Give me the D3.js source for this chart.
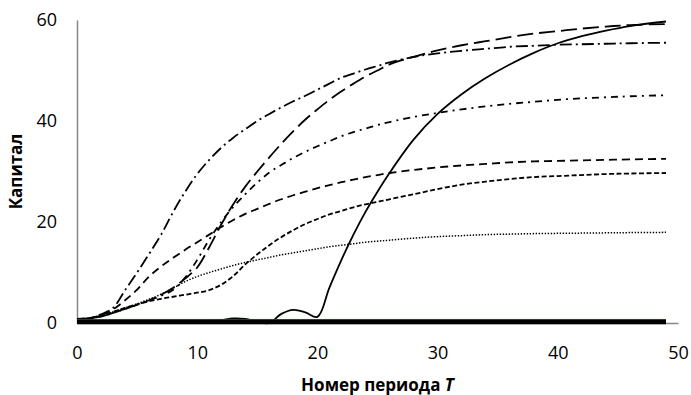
<!DOCTYPE html>
<html>
<head>
<meta charset="utf-8">
<script src="https://cdn.jsdelivr.net/npm/d3@7"></script>
<style>
  html, body { margin: 0; padding: 0; background: #fff; }
  svg { display: block; }
</style>
</head>
<body>
<svg id="chart" width="691" height="395"></svg>
<script>
// periods (T) at which each series was read
const periods = [0,1,2,3,4,5,6,7,8,9,10,11,12,13,14,15,16,17,18,19,20,21,22,23,24,25,26,28,30,32,34,36,38,40,42,44,46,49];

// long dash-dot
const seriesA = [0.8,0.9,1.7,3,6.5,10,13.7,17.5,22,26,29.5,32.3,34.7,36.7,38.4,40,41.4,42.7,43.9,45,46.2,47.4,48.6,49.4,50.2,50.9,51.6,52.7,53.4,53.9,54.3,54.7,54.9,55.1,55.2,55.3,55.4,55.5];
// long dash
const seriesB = [0.8,0.9,1.3,2,2.8,3.6,4.5,5.6,7,8.8,11,15,19.5,23.5,27,30,32.8,35.5,38,40.3,42.3,44.2,45.9,47.4,48.8,50,51.2,52.7,54,55,55.8,56.6,57.3,57.8,58.3,58.7,59,59.2];
// dash-dot
const seriesC = [0.8,0.9,1.3,2,2.8,3.6,4.5,5.4,6.6,9,12.5,16.5,20,23,25.5,27.8,29.8,31.3,32.7,33.9,35,36,37,37.8,38.5,39.2,39.8,40.8,41.6,42.3,42.9,43.4,43.8,44.2,44.5,44.7,44.9,45.1];
// dash
const seriesD = [0.8,1,1.6,2.7,4.5,6.6,9.2,11.2,12.9,14.5,16,17.5,19,20.4,21.6,22.6,23.6,24.5,25.3,26,26.7,27.3,27.9,28.4,28.9,29.3,29.7,30.3,30.8,31.2,31.5,31.8,32,32.1,32.2,32.3,32.4,32.5];
// short dash
const seriesE = [0.8,0.9,1.4,2.2,3,3.7,4.3,4.8,5.2,5.6,6,6.5,7.6,9.3,11.6,13.6,15.4,17,18.4,19.6,20.6,21.5,22.2,22.9,23.5,24,24.5,25.5,26.5,27.4,28,28.5,28.9,29.1,29.3,29.5,29.6,29.7];
// dotted
const seriesF = [0.8,0.9,1.4,2.2,3,3.8,4.7,5.7,6.9,8.2,9.2,10,10.7,11.4,12,12.5,13,13.5,13.9,14.3,14.7,15.1,15.4,15.7,16,16.2,16.4,16.8,17.1,17.3,17.5,17.6,17.7,17.75,17.8,17.85,17.9,17.95];
// solid
const seriesG = [0.8,0.5,0.3,0.3,0.3,0.3,0.3,0.3,0.3,0.3,0.3,0.4,0.6,0.9,0.8,0.3,0,1.8,2.6,2.1,1.2,7,12.5,17.5,22,26,29.7,36.3,41.4,45.3,48.5,51.2,53.5,55.4,56.8,57.9,58.8,59.7];

// series that stay at zero (thick band on the axis)
const zeroPeriods = [0, 49];
const zeroSeries = [[0.45, 0.45], [0.2, 0.2], [0, 0]];

const xTicks = [0, 10, 20, 30, 40, 50];
const yTicks = [0, 20, 40, 60];

const styles = [
  { data: seriesA, dash: "12,4,2,4", w: 1.8 },
  { data: seriesB, dash: "16,6", w: 1.8 },
  { data: seriesC, dash: "7,5,2,5", w: 1.8 },
  { data: seriesD, dash: "8,5", w: 1.8 },
  { data: seriesE, dash: "5,2.5", w: 1.8 },
  { data: seriesF, dash: "1.4,1.6", w: 1.5 },
  { data: seriesG, dash: null, w: 1.8 }
];

const svg = d3.select("#chart");
const x = d3.scaleLinear().domain([0, 50]).range([77, 678]);
const y = d3.scaleLinear().domain([0, 60]).range([323, 20]);
const font = "'Open Sans', sans-serif";

// axes
const yAxis = svg.append("g")
  .attr("transform", `translate(${x(0)},0)`)
  .call(d3.axisLeft(y).tickValues(yTicks).tickSize(0).tickPadding(20));
const xAxis = svg.append("g")
  .attr("transform", `translate(0,${y(0)})`)
  .call(d3.axisBottom(x).tickValues(xTicks).tickSize(0).tickPadding(23));

[yAxis, xAxis].forEach(a => {
  a.select(".domain").attr("stroke", "#868686").attr("stroke-width", 1.5);
  a.selectAll("text")
    .attr("fill", "#000")
    .style("font-family", font)
    .style("font-size", "18px");
});

const line = d3.line()
  .x((d, i) => x(periods[i]))
  .y(d => y(d))
  .curve(d3.curveCatmullRom.alpha(0.5));

const lines = svg.append("g").attr("fill", "none").attr("stroke", "#000");
styles.forEach(s => {
  lines.append("path")
    .attr("d", line(s.data))
    .attr("stroke-width", s.w)
    .attr("stroke-dasharray", s.dash)
    .attr("stroke-linejoin", "round");
});

const zeroLine = d3.line()
  .x((d, i) => x(zeroPeriods[i]))
  .y(d => y(d));
lines.append("path")
  .attr("d", zeroLine([0.7, 0.7]))
  .attr("stroke", "#5d7a4e")
  .attr("stroke-width", 1);
zeroSeries.forEach(z => {
  lines.append("path")
    .attr("d", zeroLine(z))
    .attr("stroke-width", 2.4);
});

// axis titles
svg.append("text")
  .attr("x", (x(0) + x(50)) / 2)
  .attr("y", 391)
  .attr("text-anchor", "middle")
  .style("font-family", font)
  .style("font-size", "17px")
  .style("font-weight", "bold")
  .text("Номер периода ")
  .append("tspan")
  .style("font-style", "italic")
  .text("T");

svg.append("text")
  .attr("transform", `translate(22,${(y(0) + y(60)) / 2}) rotate(-90)`)
  .attr("text-anchor", "middle")
  .style("font-family", font)
  .style("font-size", "17px")
  .style("font-weight", "bold")
  .text("Капитал");
</script>
</body>
</html>
